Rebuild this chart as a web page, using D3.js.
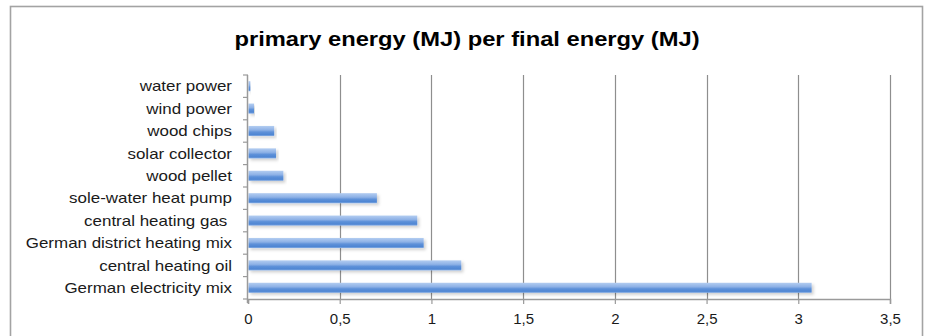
<!DOCTYPE html>
<html>
<head>
<meta charset="utf-8">
<script src="https://cdn.jsdelivr.net/npm/d3@7"></script>
<style>
  body { margin: 0; background: #fff; }
  text { font-family: "Liberation Sans", Arial, Helvetica, sans-serif; fill: #1a1a1a; }
</style>
</head>
<body>
<svg id="chart"></svg>
<script>
// chart data, bottom bar first
const categories = ["German electricity mix", "central heating oil", "German district heating mix",
  "central heating gas ", "sole-water heat pump", "wood pellet", "solar collector",
  "wood chips", "wind power", "water power"];
const values = [3.07, 1.16, 0.955, 0.92, 0.70, 0.19, 0.15, 0.14, 0.03, 0.01];
const xTicks = [0, 0.5, 1, 1.5, 2, 2.5, 3, 3.5];
const title = "primary energy (MJ) per final energy (MJ)";

const width = 925, height = 336;
const margin = { top: 75, right: 35, bottom: 37, left: 248 };
const stretch = 1.13; // text in the picture is a bit wide

const svg = d3.select("#chart").attr("width", width).attr("height", height);

// gradient + shadow for the bars
const defs = svg.append("defs");
const grad = defs.append("linearGradient").attr("id", "barGrad")
  .attr("x1", 0).attr("y1", 0).attr("x2", 0).attr("y2", 1);
[["0%", "#b3cdf1"], ["40%", "#8db1e6"], ["60%", "#5e91d9"], ["85%", "#4f86d3"], ["100%", "#86ade4"]]
  .forEach(([o, c]) => grad.append("stop").attr("offset", o).attr("stop-color", c));
defs.append("filter").attr("id", "shadow").attr("x", "-5%").attr("y", "-50%")
  .attr("width", "115%").attr("height", "250%")
  .append("feDropShadow").attr("dx", 2).attr("dy", 2).attr("stdDeviation", 1.8)
  .attr("flood-color", "#000").attr("flood-opacity", 0.18);

// outer frame
svg.append("rect")
  .attr("x", 10.5).attr("y", 6.5).attr("width", 912).attr("height", 340)
  .attr("fill", "none").attr("stroke", "#a3a3a3").attr("stroke-width", 1.6);

// title
svg.append("text")
  .attr("transform", `translate(467,46) scale(${stretch},1)`)
  .attr("text-anchor", "middle")
  .attr("font-size", 21).attr("font-weight", "bold")
  .style("fill", "#000")
  .text(title);

const x = d3.scaleLinear()
  .domain([0, 3.5])
  .range([margin.left, width - margin.right]);

const y = d3.scaleBand()
  .domain(categories.slice().reverse())
  .range([margin.top, height - margin.bottom])
  .paddingInner(0.55).paddingOuter(0.275);

const fmt = d3.formatLocale({ decimal: ",", thousands: ".", grouping: [3], currency: ["", "€"] }).format(".1~f");

// vertical gridlines
svg.append("g")
  .selectAll("line")
  .data(xTicks.slice(1))
  .join("line")
  .attr("x1", d => Math.round(x(d)) + 0.5).attr("x2", d => Math.round(x(d)) + 0.5)
  .attr("y1", margin.top).attr("y2", height - margin.bottom)
  .attr("stroke", "#8e8e8e").attr("stroke-width", 1.2);

// bars
svg.append("g")
  .selectAll("rect")
  .data(categories)
  .join("rect")
  .attr("x", x(0) + 0.5)
  .attr("y", d => y(d))
  .attr("width", (d, i) => x(values[i]) - x(0))
  .attr("height", y.bandwidth())
  .attr("fill", "url(#barGrad)")
  .attr("filter", "url(#shadow)");

// x axis
const xAxis = svg.append("g")
  .attr("transform", `translate(0,${height - margin.bottom})`)
  .call(d3.axisBottom(x).tickValues(xTicks).tickFormat(fmt).tickSize(5).tickPadding(9));
xAxis.select(".domain").attr("stroke", "#9a9a9a").attr("stroke-width", 1.5);
xAxis.selectAll(".tick line").attr("stroke", "#9a9a9a").attr("stroke-width", 1.2);
xAxis.selectAll(".tick text")
  .attr("font-size", 15)
  .attr("font-family", "Liberation Sans, Arial, sans-serif")
  .style("fill", "#1a1a1a");

// y axis line and ticks at band boundaries
const yAxis = svg.append("g");
yAxis.append("line")
  .attr("x1", margin.left - 0.5).attr("x2", margin.left - 0.5)
  .attr("y1", margin.top).attr("y2", height - margin.bottom + 4)
  .attr("stroke", "#9a9a9a").attr("stroke-width", 1.5);
const bounds = d3.range(categories.length + 1).map(i => margin.top + i * y.step());
yAxis.selectAll(".ytick")
  .data(bounds)
  .join("line")
  .attr("class", "ytick")
  .attr("x1", margin.left - 5).attr("x2", margin.left)
  .attr("y1", d => d).attr("y2", d => d)
  .attr("stroke", "#9a9a9a").attr("stroke-width", 1.2);

// category labels
yAxis.selectAll(".ylabel")
  .data(categories)
  .join("text")
  .attr("class", "ylabel")
  .attr("transform", d => `translate(232,${y(d) + y.bandwidth() / 2}) scale(${stretch},1)`)
  .attr("text-anchor", "end")
  .attr("dy", "0.35em")
  .attr("font-size", 15)
  .style("white-space", "pre")
  .text(d => d);
</script>
</body>
</html>
